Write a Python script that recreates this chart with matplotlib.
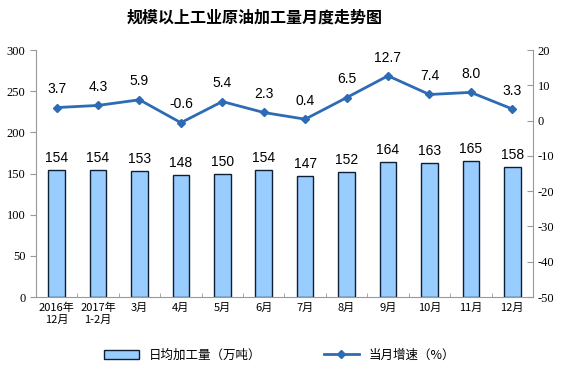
import numpy as np
import matplotlib.pyplot as plt

plt.rcParams['font.family'] = ['Noto Sans CJK SC', 'DejaVu Sans']
plt.rcParams['axes.unicode_minus'] = False

months = ['2016年\n12月', '2017年\n1-2月', '3月', '4月', '5月', '6月',
          '7月', '8月', '9月', '10月', '11月', '12月']
output = [154, 154, 153, 148, 150, 154, 147, 152, 164, 163, 165, 158]
growth = [3.7, 4.3, 5.9, -0.6, 5.4, 2.3, 0.4, 6.5, 12.7, 7.4, 8.0, 3.3]

fig = plt.figure(figsize=(5.7, 3.82), dpi=100)
ax = fig.add_axes([0.063, 0.2225, 0.872, 0.6465])
x = np.arange(len(months))

bars = ax.bar(x, output, width=0.4, color='#99CCFF', edgecolor='#0F1F33',
              linewidth=1.0, label='日均加工量（万吨）', zorder=2)
for xi, v in zip(x, output):
    ax.text(xi, v + 6, str(v), ha='center', va='bottom', fontsize=10,
            family='Liberation Sans')

ax.set_xlim(-0.5, len(months) - 0.5)
ax.set_ylim(0, 300)
ax.set_yticks(np.arange(0, 301, 50))
ax.set_xticks(x)
ax.set_xticklabels(months, fontsize=8, linespacing=1.3)
ax.set_xticks(np.arange(-0.5, len(months), 1), minor=True)
ax.tick_params(axis='x', which='major', length=0, pad=4)
ax.tick_params(axis='x', which='minor', length=3, direction='in', color='#999999')
ax.tick_params(axis='y', labelsize=9, length=4, color='#999999')
for lab in ax.get_yticklabels():
    lab.set_family('Liberation Serif')
for s in ['top', 'right']:
    ax.spines[s].set_visible(False)
ax.spines['left'].set_color('#999999')
ax.spines['bottom'].set_color('#999999')

ax2 = ax.twinx()
line, = ax2.plot(x, growth, color='#2E6BB5', linewidth=2, marker='D',
                 markersize=4.5, label='当月增速（%）', zorder=3)
for xi, v in zip(x, growth):
    ax2.text(xi, v + 3.2, f'{v:.1f}', ha='center', va='bottom', fontsize=10,
             family='Liberation Sans')
ax2.set_ylim(-50, 20)
ax2.set_yticks(np.arange(-50, 21, 10))
ax2.tick_params(axis='y', labelsize=9, length=4, direction='in', color='#999999')
for lab in ax2.get_yticklabels():
    lab.set_family('Liberation Serif')
for s in ['top', 'left', 'bottom']:
    ax2.spines[s].set_visible(False)
ax2.spines['right'].set_color('#999999')

fig.text(0.447, 0.953, '规模以上工业原油加工量月度走势图', ha='center', va='center',
         fontsize=11.5, fontweight='bold')

fig.legend([bars, line], ['日均加工量（万吨）', '当月增速（%）'], loc='center',
           bbox_to_anchor=(0.49, 0.07), ncol=2, frameon=False, fontsize=9,
           columnspacing=5, handlelength=2.8)

fig.savefig('out.png', dpi=100)
